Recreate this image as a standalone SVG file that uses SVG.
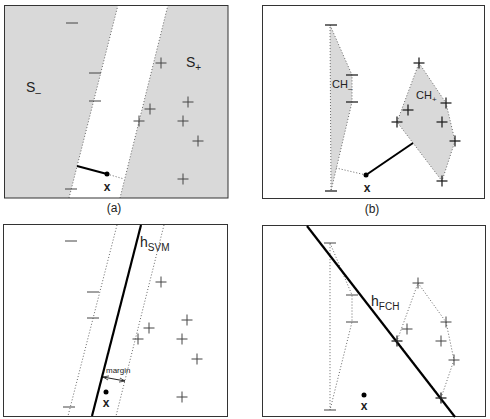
<svg xmlns="http://www.w3.org/2000/svg" width="490" height="419" viewBox="0 0 490 419">
<style>
.frame{fill:none;stroke:#333;stroke-width:1}
.gray{fill:#d9d9d9;stroke:none}
.dot{fill:none;stroke:#666;stroke-width:1;stroke-dasharray:1 2}
.hull{fill:#d9d9d9;stroke:#666;stroke-width:1;stroke-dasharray:1 2}
.hullo{fill:none;stroke:#666;stroke-width:1;stroke-dasharray:1 2}
.m{stroke:#444;stroke-width:1;fill:none}
.mb{stroke:#222;stroke-width:1.3;fill:none}
.solid{stroke:#000;stroke-width:2;fill:none}
.thick{stroke:#000;stroke-width:2.2;fill:none}
.t{font-family:"Liberation Sans",Arial,sans-serif;fill:#222}
.x{font-family:"Liberation Sans",Arial,sans-serif;font-weight:bold;font-size:12px;fill:#222}
.cap{font-family:"Liberation Sans",Arial,sans-serif;font-size:12px;fill:#222}
</style>
<defs>
<g id="minus"><line x1="-6" y1="0" x2="6" y2="0"/></g>
<g id="plus"><line x1="-5.5" y1="0" x2="5.5" y2="0"/><line x1="0" y1="-5.5" x2="0" y2="5.5"/></g>
<marker id="ah" viewBox="0 0 8 8" refX="8" refY="4" markerWidth="6" markerHeight="6" orient="auto-start-reverse"><path d="M0,1 L8,4 L0,7" fill="none" stroke="#222" stroke-width="1"/></marker>
</defs>

<!-- Panel (a) -->
<g id="panel-a">
<polygon class="gray" points="4,5 118,5 69,198 4,198"/>
<polygon class="gray" points="168,5 228,5 228,198 120,198"/>
<line class="dot" x1="118" y1="5" x2="69" y2="198"/>
<line class="dot" x1="168" y1="5" x2="120" y2="198"/>
<rect class="frame" x="4.5" y="5.5" width="223.5" height="192.5"/>
<g class="m">
<use href="#minus" x="72" y="23"/><use href="#minus" x="95" y="73"/><use href="#minus" x="95" y="101"/><use href="#minus" x="71" y="189"/>
<use href="#plus" x="161" y="63"/><use href="#plus" x="150" y="109"/><use href="#plus" x="139" y="121"/><use href="#plus" x="188" y="102"/><use href="#plus" x="183" y="121"/><use href="#plus" x="198" y="141"/><use href="#plus" x="183" y="179"/>
</g>
<text class="t" x="26" y="92" font-size="14">S<tspan font-size="10" dy="4">–</tspan></text>
<text class="t" x="186" y="67" font-size="14">S<tspan font-size="10" dy="4">+</tspan></text>
<line class="dot" x1="107" y1="174" x2="124" y2="179"/>
<line class="solid" x1="77" y1="166" x2="107" y2="174"/>
<circle cx="107" cy="174" r="2.5" fill="#000"/>
<text class="x" x="107" y="191" text-anchor="middle">x</text>
<text class="cap" x="114" y="212" text-anchor="middle">(a)</text>
</g>

<!-- Panel (b) -->
<g id="panel-b">
<rect class="frame" x="262.5" y="5.5" width="222" height="193"/>
<polygon class="hull" points="330,25 352,75 352,102 331,191"/>
<polygon class="hull" points="419,63 446,103 455,141 442,181 397,122"/>
<g class="mb">
<use href="#minus" x="331" y="25"/><use href="#minus" x="352" y="75"/><use href="#minus" x="352" y="102"/><use href="#minus" x="331" y="191"/>
<use href="#plus" x="419" y="63"/><use href="#plus" x="408" y="110"/><use href="#plus" x="397" y="122"/><use href="#plus" x="446" y="103"/><use href="#plus" x="442" y="122"/><use href="#plus" x="455" y="141"/><use href="#plus" x="442" y="181"/>
</g>
<text class="t" x="332" y="88" font-size="11">CH<tspan font-size="8" dy="3">–</tspan></text>
<text class="t" x="416" y="99" font-size="11">CH<tspan font-size="8" dy="3">+</tspan></text>
<line class="dot" x1="366" y1="175" x2="336" y2="168"/>
<line class="solid" x1="366" y1="175" x2="413" y2="143"/>
<circle cx="366" cy="175" r="2.5" fill="#000"/>
<text class="x" x="367" y="192" text-anchor="middle">x</text>
<text class="cap" x="372" y="213" text-anchor="middle">(b)</text>
</g>

<!-- Panel (c) -->
<g id="panel-c">
<rect class="frame" x="3.5" y="224.5" width="224" height="192"/>
<line class="dot" x1="117" y1="225" x2="68" y2="416"/>
<line class="dot" x1="164" y1="225" x2="116" y2="416"/>
<line class="thick" x1="141" y1="225" x2="92" y2="416"/>
<g class="m">
<use href="#minus" x="71" y="241"/><use href="#minus" x="93" y="292"/><use href="#minus" x="93" y="318"/><use href="#minus" x="69" y="407"/>
<use href="#plus" x="161" y="282"/><use href="#plus" x="149" y="328"/><use href="#plus" x="138" y="339"/><use href="#plus" x="187" y="320"/><use href="#plus" x="182" y="339"/><use href="#plus" x="197" y="359"/><use href="#plus" x="182" y="397"/>
</g>
<text class="t" x="140" y="247" font-size="14">h<tspan font-size="10" dy="4">SVM</tspan></text>
<text class="t" x="106" y="373" font-size="8">margin</text>
<line x1="103" y1="377" x2="125" y2="381" stroke="#222" stroke-width="1" marker-start="url(#ah)" marker-end="url(#ah)"/>
<circle cx="106" cy="392" r="2.5" fill="#000"/>
<text class="x" x="106" y="407" text-anchor="middle">x</text>
</g>

<!-- Panel (d) -->
<g id="panel-d">
<rect class="frame" x="262.5" y="225.5" width="223" height="191"/>
<polygon class="hullo" points="330,243 352,295 352,322 330,410"/>
<polygon class="hullo" points="418,283 446,322 454,360 441,398 397,341"/>
<line class="thick" x1="307" y1="226" x2="455" y2="417"/>
<g class="m">
<use href="#minus" x="330" y="243"/><use href="#minus" x="352" y="295"/><use href="#minus" x="352" y="322"/><use href="#minus" x="330" y="410"/>
<use href="#plus" x="418" y="283"/><use href="#plus" x="407" y="329"/><use href="#plus" x="446" y="322"/><use href="#plus" x="441" y="341"/><use href="#plus" x="454" y="360"/>
</g>
<g class="mb">
<use href="#plus" x="397" y="341"/><use href="#plus" x="441" y="398"/>
</g>
<text class="t" x="371" y="306" font-size="14">h<tspan font-size="10" dy="4">FCH</tspan></text>
<circle cx="364" cy="395" r="2.5" fill="#000"/>
<text class="x" x="364" y="410" text-anchor="middle">x</text>
</g>
</svg>
